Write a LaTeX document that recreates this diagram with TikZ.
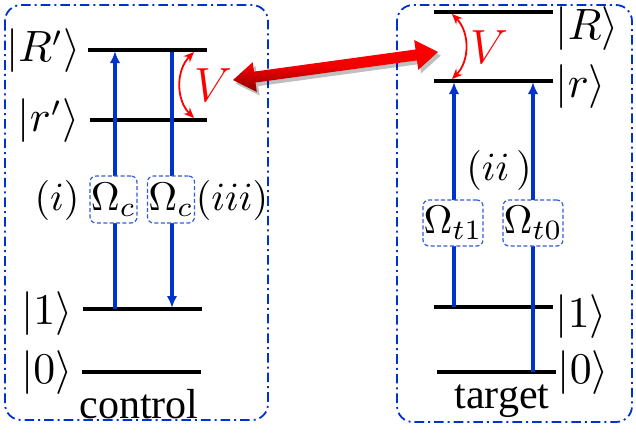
\documentclass[tikz,border=0pt]{standalone}
\usepackage{fontspec}
\setmainfont{Liberation Serif}
\usetikzlibrary{arrows.meta,shadows}
\definecolor{lblue}{RGB}{0,51,204}
\definecolor{dred}{RGB}{140,0,0}
\begin{document}
\begin{tikzpicture}[x=0.25pt,y=-0.25pt,
  frame/.style={draw=lblue, line width=0.45pt, dash pattern=on 2.4pt off 1pt on 0.5pt off 1pt, rounded corners=4pt},
  level/.style={line width=1pt},
  pump/.style={draw=lblue, line width=1pt, -{Latex[length=3pt,width=2.6pt]}},
  obox/.style={draw=lblue!80, line width=0.3pt, dash pattern=on 1pt off 0.6pt, rounded corners=1.5pt, fill=white, inner sep=0pt, font=\fontsize{10}{12}\selectfont},
  ket/.style={inner sep=0pt, font=\fontsize{10.5}{12}\selectfont},
  lab/.style={inner sep=0pt, font=\fontsize{10}{12}\selectfont},
  vcurve/.style={draw=red, line width=0.45pt, {Stealth[length=2.6pt,width=2.2pt]}-{Stealth[length=2.6pt,width=2.2pt]}},
  vlab/.style={inner sep=0pt, text=red, font=\fontsize{12}{14}\selectfont},
  bigarrow/.style={top color=red, bottom color=dred, middle color=red!95!black, draw=none,
      drop shadow={opacity=0.25, shadow xshift=0.7pt, shadow yshift=-0.9pt, fill=black}}
]
\useasboundingbox (0,0) rectangle (636,433);
% frames
\draw[frame] (5,5) rectangle (268,420);
\draw[frame] (397,5) rectangle (632,422);
% left levels
\coordinate (LR1) at (88,50);  \coordinate (LR2) at (207,50);
\coordinate (Lr1) at (90,120); \coordinate (Lr2) at (207,120);
\coordinate (L11) at (83,309); \coordinate (L12) at (202,309);
\coordinate (L01) at (82,372); \coordinate (L02) at (201,372);
\draw[level] (LR1) -- (LR2);
\draw[level] (Lr1) -- (Lr2);
\draw[level] (L11) -- (L12);
\draw[level] (L01) -- (L02);
% right levels
\coordinate (RR1) at (434,12);  \coordinate (RR2) at (553,12);
\coordinate (Rr1) at (434,81);  \coordinate (Rr2) at (553,81);
\coordinate (R11) at (434,307); \coordinate (R12) at (553,307);
\coordinate (R01) at (437,372); \coordinate (R02) at (556,372);
\draw[level] (RR1) -- (RR2);
\draw[level] (Rr1) -- (Rr2);
\draw[level] (R11) -- (R12);
\draw[level] (R01) -- (R02);
% pump arrows
\coordinate (a1s) at (115,309); \coordinate (a1e) at (115,51);
\coordinate (a2s) at (172,52);  \coordinate (a2e) at (172,308);
\coordinate (a3s) at (454,307); \coordinate (a3e) at (454,82);
\coordinate (a4s) at (533,372); \coordinate (a4e) at (533,82);
\draw[pump] (a1s) -- (a1e);
\draw[pump] (a2s) -- (a2e);
\draw[pump] (a3s) -- (a3e);
\draw[pump] (a4s) -- (a4e);
% Omega boxes
\node[obox, minimum width=11.75pt, minimum height=11.75pt] (oc1) at (113.5,199.5) {$\Omega_c$};
\node[obox, minimum width=11.75pt, minimum height=11.75pt] (oc2) at (171,199.5) {$\Omega_c$};
\node[obox, minimum width=15pt, minimum height=11.5pt] (ot1) at (453,223) {$\Omega_{t1}$};
\node[obox, minimum width=15pt, minimum height=11.5pt] (ot0) at (533,223) {$\Omega_{t0}$};
% kets
\node[ket, anchor=east] (kRc) at (81,51) {$|R'\rangle$};
\node[ket, anchor=east] (krc) at (80,121) {$|r'\rangle$};
\node[ket, anchor=east] (k1c) at (73,314) {$|1\rangle$};
\node[ket, anchor=east] (k0c) at (73,373) {$|0\rangle$};
\node[ket, anchor=west] (kRt) at (555,29) {$|R\rangle$};
\node[ket, anchor=west] (krt) at (555,87) {$|r\rangle$};
\node[ket, anchor=west] (k1t) at (555,317) {$|1\rangle$};
\node[ket, anchor=west] (k0t) at (557,373) {$|0\rangle$};
% process labels
\node[lab] (li) at (57,200) {$(i)$};
\node[lab] (liii) at (232,200) {$(iii)$};
\node[lab] (lii) at (499,170) {$(ii\,)$};
\node[ket] (ctl) at (139,404) {control};
\node[ket] (tgt) at (502,401) {target};
% V couplings
\coordinate (vl1) at (194,52); \coordinate (vl2) at (194,118);
\coordinate (vr1) at (452,14); \coordinate (vr2) at (452,79);
\draw[vcurve] (vl1) to[bend right=45] (vl2);
\draw[vcurve] (vr1) to[bend left=45] (vr2);
\node[vlab] (Vl) at (213,85) {$V$};
\node[vlab] (Vr) at (489,47) {$V$};
% big double arrow
\begin{scope}[shift={(335.5,66)}, rotate=7.8]
  \path[bigarrow] (-103.5,0) -- (-81.5,-15) -- (-81.5,-5.5) -- (81.5,-5.5) -- (81.5,-15)
     -- (103.5,0) -- (81.5,15) -- (81.5,5.5) -- (-81.5,5.5) -- (-81.5,15) -- cycle;
\end{scope}
\end{tikzpicture}
\end{document}
